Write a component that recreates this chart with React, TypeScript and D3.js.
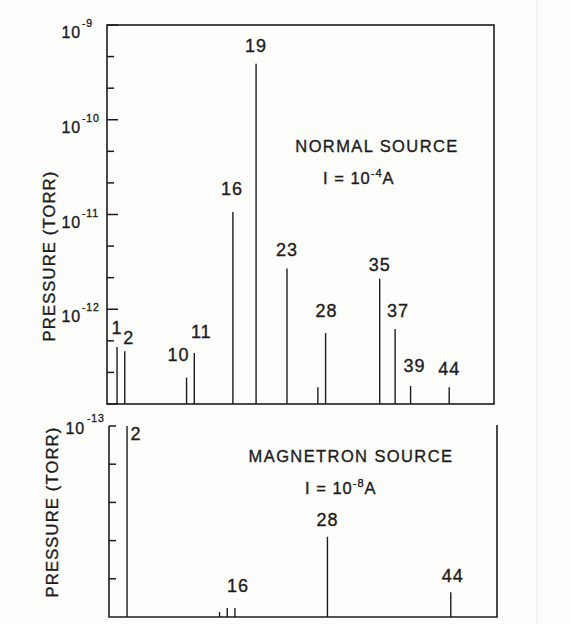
import React from "react";
import * as d3 from "d3";

// ---- data ----
const normalMasses = [1, 2, 10, 11, 16, 19, 23, 27, 28, 35, 37, 39, 44];
const normalPressures = [4.0e-13, 3.6e-13, 1.9e-13, 3.45e-13, 1.06e-11, 3.9e-10, 2.7e-12, 1.5e-13, 5.6e-13, 2.1e-12, 6.2e-13, 1.55e-13, 1.5e-13];
const normalLabels = ["1", "2", "10", "11", "16", "19", "23", "", "28", "35", "37", "39", "44"];

const magMasses = [2, 14, 15, 16, 28, 44];
const magPressures = [1.0e-13, 0.026e-13, 0.047e-13, 0.047e-13, 0.42e-13, 0.13e-13];
const magLabels = ["2", "", "", "16", "28", "44"];

const topMajorExps = [-13, -12, -11, -10, -9];
const bottomTicks = [0, 0.2e-13, 0.4e-13, 0.6e-13, 0.8e-13, 1.0e-13];

const topTitle = "NORMAL SOURCE";
const topCurrentExp = "-4";
const bottomTitle = "MAGNETRON SOURCE";
const bottomCurrentExp = "-8";
const yTitle = "PRESSURE (TORR)";

// ---- layout (label nudges, not data) ----
const topNudge: Record<string, [number, number]> = {
  "1": [0, -13], "2": [4, -7], "10": [-8, -17], "11": [7, -15], "16": [-1, -17],
  "19": [0, -12], "23": [0, -12], "28": [1, -16], "35": [0, -8], "37": [3, -12],
  "39": [4, -14], "44": [0, -12],
};
const botNudge: Record<string, [number, number]> = {
  "2": [9, 14], "16": [3, -16], "28": [0, -11], "44": [2, -10],
};

const INK = "#1c1c1c";
const FONT = "'Liberation Sans', Arial, Helvetica, sans-serif";
const TXT = { fill: INK, stroke: INK, strokeWidth: 0.35 };

export default function App() {
  const xTop = d3.scaleLinear().domain([-0.3, 49.8]).range([107, 494]);
  const yTop = d3.scaleLog().domain([1e-13, 1e-9]).range([404, 25]);
  const xBot = d3.scaleLinear().domain([-0.34, 50]).range([109, 497]);
  const yBot = d3.scaleLinear().domain([0, 1e-13]).range([617, 426]);

  const x0 = xTop.range()[0];
  const x1 = xTop.range()[1];
  const bx0 = xBot.range()[0];
  const bx1 = xBot.range()[1];

  const minorTop: number[] = [];
  topMajorExps.slice(0, -1).forEach((e) => {
    minorTop.push(Math.pow(10, e + 1 / 3), Math.pow(10, e + 2 / 3));
  });

  return (
    <svg
      width={570}
      height={624}
      style={{ position: "absolute", left: 0, top: 0, background: "#fdfdfc" }}
      fontFamily={FONT}
    >
      <rect x={0} y={0} width={570} height={624} fill="#fdfdfc" />
      {/* faint scan artifacts */}
      <line x1={537} y1={0} x2={537} y2={624} stroke="#e8e8e8" strokeWidth={1} />

      {/* ===== TOP PANEL ===== */}
      <rect x={x0} y={yTop(1e-9)} width={x1 - x0} height={yTop(1e-13) - yTop(1e-9)}
        fill="none" stroke={INK} strokeWidth={1.6} />
      {topMajorExps.map((e) => (
        <line key={"tM" + e} x1={x0} x2={x0 + 11} y1={yTop(Math.pow(10, e))} y2={yTop(Math.pow(10, e))}
          stroke={INK} strokeWidth={1.5} />
      ))}
      {minorTop.map((v, i) => (
        <line key={"tm" + i} x1={x0} x2={x0 + 7} y1={yTop(v)} y2={yTop(v)} stroke={INK} strokeWidth={1.5} />
      ))}
      {topMajorExps.filter((e) => e > -13).map((e) => (
        <g key={"tl" + e} {...TXT}>
          <text x={81} y={yTop(Math.pow(10, e)) + 13} fontSize={16} letterSpacing={0.8} textAnchor="end">10</text>
          <text x={82} y={yTop(Math.pow(10, e)) + 2} fontSize={10.5} letterSpacing={0.8} textAnchor="start">{String(e)}</text>
        </g>
      ))}
      {normalMasses.map((m, i) => (
        <line key={"nb" + m} x1={xTop(m)} x2={xTop(m)} y1={yTop(1e-13)} y2={yTop(normalPressures[i])}
          stroke={INK} strokeWidth={1.4} />
      ))}
      {normalMasses.map((m, i) => {
        const lab = normalLabels[i];
        if (!lab) return null;
        const [dx, dy] = topNudge[lab] || [0, -12];
        return (
          <text key={"nl" + m} x={xTop(m) + dx} y={yTop(normalPressures[i]) + dy} fontSize={18}
            textAnchor="middle" letterSpacing={1} {...TXT}>{lab}</text>
        );
      })}
      <text x={377} y={152} fontSize={16.5} textAnchor="middle" letterSpacing={1.4} {...TXT}>{topTitle}</text>
      <text x={323} y={184} fontSize={16.5} letterSpacing={1} {...TXT}>
        I = 10<tspan dy={-7} fontSize={11}>{topCurrentExp}</tspan><tspan dy={7}>A</tspan>
      </text>
      <text transform={`translate(55,256) rotate(-90)`} fontSize={16.5} textAnchor="middle" letterSpacing={1.2} {...TXT}>
        {yTitle}
      </text>

      {/* ===== BOTTOM PANEL ===== */}
      <path d={`M${bx0},${yBot(1e-13)} V${yBot(0)} H${bx1} V${yBot(1e-13) - 1}`}
        fill="none" stroke={INK} strokeWidth={1.6} />
      {bottomTicks.filter((v) => v > 0).map((v) => (
        <line key={"bt" + v} x1={bx0} x2={bx0 + 7} y1={yBot(v)} y2={yBot(v)} stroke={INK} strokeWidth={1.5} />
      ))}
      <g {...TXT}>
        <text x={85} y={yBot(1e-13) + 8} fontSize={16} letterSpacing={0.8} textAnchor="end">10</text>
        <text x={87} y={yBot(1e-13) - 4} fontSize={10.5} letterSpacing={0.8} textAnchor="start">-13</text>
      </g>
      {magMasses.map((m, i) => (
        <line key={"mb" + m} x1={xBot(m)} x2={xBot(m)} y1={yBot(0)} y2={yBot(magPressures[i])}
          stroke={INK} strokeWidth={1.4} />
      ))}
      {magMasses.map((m, i) => {
        const lab = magLabels[i];
        if (!lab) return null;
        const [dx, dy] = botNudge[lab] || [0, -12];
        const ref = lab === "16" ? yBot(0.047e-13) : yBot(magPressures[i]);
        return (
          <text key={"ml" + m} x={xBot(m) + dx} y={ref + dy} fontSize={18}
            textAnchor="middle" letterSpacing={1} {...TXT}>{lab}</text>
        );
      })}
      <text x={351} y={462} fontSize={16.5} textAnchor="middle" letterSpacing={1.4} {...TXT}>{bottomTitle}</text>
      <text x={305} y={494} fontSize={16.5} letterSpacing={1} {...TXT}>
        I = 10<tspan dy={-7} fontSize={11}>{bottomCurrentExp}</tspan><tspan dy={7}>A</tspan>
      </text>
      <text transform={`translate(58,512) rotate(-90)`} fontSize={16.5} textAnchor="middle" letterSpacing={1.2} {...TXT}>
        {yTitle}
      </text>
    </svg>
  );
}
